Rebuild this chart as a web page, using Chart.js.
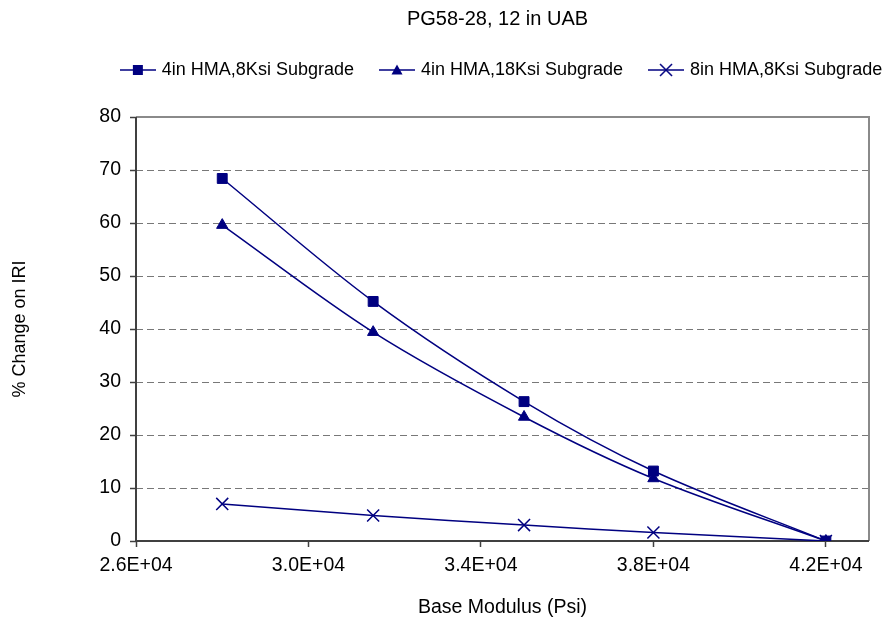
<!DOCTYPE html>
<html>
<head>
<meta charset="utf-8">
<script src="https://cdn.jsdelivr.net/npm/chart.js@4/dist/chart.umd.min.js"></script>
<style>
  html, body { margin: 0; padding: 0; background: #ffffff; }
  #wrap { width: 893px; height: 617px; }
</style>
</head>
<body>
<div id="wrap"><canvas id="chart" width="893" height="617"></canvas></div>
<script>
// Base modulus (psi) at which each run was made
const baseModulus = [28000, 31500, 35000, 38000, 42000];

// % change on IRI for each pavement section
const hma4Sub8  = [68.4, 45.2, 26.3, 13.2, 0];
const hma4Sub18 = [59.6, 39.4, 23.4, 11.8, 0];
const hma8Sub8  = [7.0, 4.8, 3.0, 1.6, 0];

const seriesNames = ['4in HMA,8Ksi Subgrade', '4in HMA,18Ksi Subgrade', '8in HMA,8Ksi Subgrade'];
const xTickValues = [26000, 30000, 34000, 38000, 42000];

const NAVY = '#000080';
const FONT = "'Liberation Sans', Arial, Helvetica, sans-serif";
Chart.defaults.font.family = FONT;
Chart.defaults.color = '#000000';

function toPoints(values) {
  return baseModulus.map((x, i) => ({ x: x, y: values[i] }));
}

// Excel-style scientific label: 2.6E+04
function sciLabel(v) {
  const [m, e] = v.toExponential(1).split('e');
  const sign = e[0] === '-' ? '-' : '+';
  const digits = e.replace(/[+-]/, '').padStart(2, '0');
  return m + 'E' + sign + digits;
}

// Legend swatch: short line with the series marker in the middle
function legendSwatch(style) {
  const c = document.createElement('canvas');
  c.width = 36; c.height = 16;
  const g = c.getContext('2d');
  g.strokeStyle = NAVY; g.fillStyle = NAVY; g.lineWidth = 1.6;
  g.beginPath(); g.moveTo(0, 8); g.lineTo(36, 8); g.stroke();
  if (style === 'rect') {
    g.fillRect(13, 3, 10, 10);
  } else if (style === 'triangle') {
    g.beginPath(); g.moveTo(18, 2.5); g.lineTo(23.5, 12.5); g.lineTo(12.5, 12.5); g.closePath(); g.fill();
  } else {
    g.lineWidth = 1.5;
    g.beginPath(); g.moveTo(12, 2); g.lineTo(24, 14); g.moveTo(24, 2); g.lineTo(12, 14); g.stroke();
  }
  return c;
}

function makeSet(label, values, style, radius) {
  return {
    label: label,
    data: toPoints(values),
    borderColor: NAVY,
    backgroundColor: NAVY,
    borderWidth: 1.5,
    pointStyle: style,
    pointRadius: radius,
    pointHoverRadius: radius,
    pointBorderColor: NAVY,
    pointBackgroundColor: NAVY,
    pointBorderWidth: style === 'crossRot' ? 1.5 : 1,
    tension: 0.33,
    fill: false,
    showLine: true
  };
}

// Plot frame: dark axes on left/bottom, grey border on top/right
const plotFrame = {
  id: 'plotFrame',
  beforeDatasetsDraw(chart) {
    const { ctx, chartArea: a } = chart;
    ctx.save();
    ctx.setLineDash([]);
    ctx.lineWidth = 2;
    ctx.strokeStyle = '#8a8a8a';
    ctx.beginPath();
    ctx.moveTo(a.left, a.top); ctx.lineTo(a.right, a.top); ctx.lineTo(a.right, a.bottom);
    ctx.stroke();
    ctx.strokeStyle = '#404040';
    ctx.beginPath();
    ctx.moveTo(a.left, a.top); ctx.lineTo(a.left, a.bottom); ctx.lineTo(a.right, a.bottom);
    ctx.stroke();
    ctx.restore();
  }
};

// Title and legend sit above the plot, centred on the plot area
const placeHeader = {
  id: 'placeHeader',
  afterLayout(chart) {
    const a = chart.chartArea;
    const mid = (a.left + a.right) / 2;
    const t = chart.titleBlock;
    const lg = chart.legend;
    let y = 0;
    if (t) {
      const h = t.bottom - t.top, w = t.right - t.left;
      t.top = 0; t.bottom = h;
      t.left = mid - 5 - w / 2; t.right = t.left + w;
      y = h + 2;
    }
    if (lg) {
      const h = lg.bottom - lg.top, w = lg.right - lg.left;
      lg.top = y; lg.bottom = y + h;
      lg.left = mid - w / 2; lg.right = lg.left + w;
    }
  }
};

const swatches = [legendSwatch('rect'), legendSwatch('triangle'), legendSwatch('crossRot')];

new Chart(document.getElementById('chart'), {
  type: 'line',
  data: {
    datasets: [
      makeSet(seriesNames[0], hma4Sub8, 'rect', 7),
      makeSet(seriesNames[1], hma4Sub18, 'triangle', 6.5),
      makeSet(seriesNames[2], hma8Sub8, 'crossRot', 8.5)
    ]
  },
  plugins: [plotFrame, placeHeader],
  options: {
    responsive: false,
    devicePixelRatio: 1,
    animation: false,
    layout: { padding: { left: 0, right: 24, top: 30, bottom: 0 } },
    plugins: {
      title: {
        display: true,
        text: 'PG58-28, 12 in UAB',
        color: '#000000',
        font: { size: 20, weight: 'normal', family: FONT, lineHeight: 1.2 },
        padding: { top: 7, bottom: 0 }
      },
      legend: {
        display: true,
        position: 'top',
        labels: {
          color: '#000000',
          font: { size: 18, family: FONT },
          usePointStyle: true,
          pointStyleWidth: 30,
          padding: 28,
          generateLabels(chart) {
            const items = Chart.defaults.plugins.legend.labels.generateLabels(chart);
            items.forEach((it, i) => { it.pointStyle = swatches[i]; });
            return items;
          }
        }
      },
      tooltip: { enabled: false }
    },
    scales: {
      x: {
        type: 'linear',
        min: 26000,
        max: 43000,
        afterBuildTicks(scale) {
          scale.ticks = xTickValues.map(v => ({ value: v }));
        },
        afterFit(scale) { scale.height = 76; },
        ticks: {
          color: '#000000',
          font: { size: 19.5, family: FONT },
          padding: 7,
          maxRotation: 0,
          autoSkip: false,
          callback: (v) => sciLabel(v)
        },
        grid: {
          display: true,
          drawOnChartArea: false,
          drawTicks: true,
          tickLength: 6,
          tickColor: '#404040',
          tickWidth: 1.5,
          color: '#404040'
        },
        border: { display: false },
        title: {
          display: true,
          text: 'Base Modulus (Psi)',
          color: '#000000',
          font: { size: 19.5, family: FONT, lineHeight: 1 },
          padding: { top: 0, bottom: 0 }
        }
      },
      y: {
        type: 'linear',
        min: 0,
        max: 80,
        afterFit(scale) { scale.width = 136; },
        ticks: {
          stepSize: 10,
          color: '#000000',
          font: { size: 19.5, family: FONT },
          padding: 9
        },
        grid: {
          display: true,
          drawOnChartArea: true,
          drawTicks: true,
          tickLength: 6,
          color: '#787878',
          lineWidth: 1,
          tickColor: '#404040',
          tickWidth: 1.5
        },
        border: { display: false, dash: [7, 4] },
        title: {
          display: true,
          text: '% Change on IRI',
          color: '#000000',
          font: { size: 18, family: FONT, lineHeight: 1.2 },
          padding: { top: 9, bottom: 0 }
        }
      }
    }
  }
});
</script>
</body>
</html>
